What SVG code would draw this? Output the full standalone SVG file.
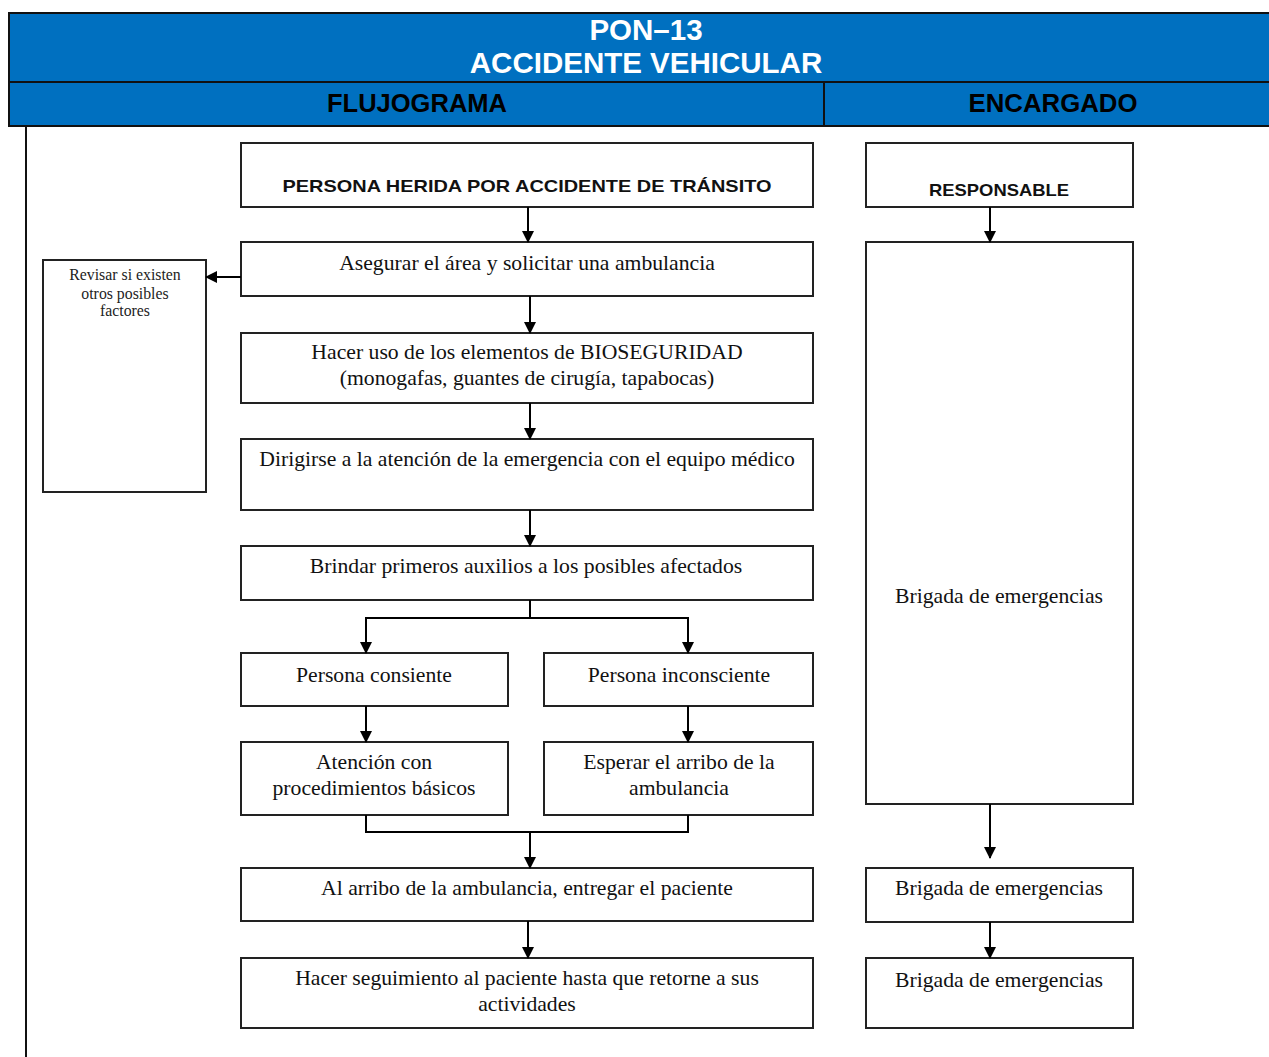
<svg xmlns="http://www.w3.org/2000/svg" width="1269" height="1057" viewBox="0 0 1269 1057">
<defs>
<marker id="ah" markerWidth="12" markerHeight="12" refX="11" refY="6" orient="auto" markerUnits="userSpaceOnUse">
<path d="M0,0 L12,6 L0,12 Z" fill="#000"/>
</marker>
<style>
.box{fill:#fff;stroke:#222;stroke-width:2}
.hd{font-family:"Liberation Sans",Arial,sans-serif;font-weight:bold;text-anchor:middle}
.sr{font-family:"Liberation Serif","Times New Roman",serif;font-size:21.7px;fill:#111;text-anchor:middle}
.sm{font-family:"Liberation Serif","Times New Roman",serif;font-size:15.8px;fill:#222;text-anchor:middle}
.cn{fill:none;stroke:#000;stroke-width:2;marker-end:url(#ah)}
.ln{fill:none;stroke:#000;stroke-width:2}
</style>
</defs>
<rect width="1269" height="1057" fill="#fff"/>
<g id="header">
<rect x="9" y="13" width="1270" height="113" fill="#0070C0" stroke="#111" stroke-width="2"/>
<line x1="9" y1="82" x2="1269" y2="82" stroke="#111" stroke-width="2"/>
<line x1="824" y1="82" x2="824" y2="126" stroke="#111" stroke-width="2"/>
<text class="hd" x="646" y="40" font-size="29.5" fill="#fff">PON–13</text>
<text class="hd" x="646" y="73" font-size="29.5" fill="#fff">ACCIDENTE VEHICULAR</text>
<text class="hd" x="417" y="112" font-size="25" fill="#000" textLength="180" lengthAdjust="spacingAndGlyphs">FLUJOGRAMA</text>
<text class="hd" x="1053" y="112" font-size="25" fill="#000" textLength="169" lengthAdjust="spacingAndGlyphs">ENCARGADO</text>
</g>
<line x1="26" y1="126" x2="26" y2="1057" stroke="#111" stroke-width="2"/>
<g id="n1"><rect class="box" x="241" y="143" width="572" height="64"/>
<text class="hd" x="527" y="192" font-size="17" fill="#111" textLength="489" lengthAdjust="spacingAndGlyphs">PERSONA HERIDA POR ACCIDENTE DE TRÁNSITO</text></g>
<g id="r1"><rect class="box" x="866" y="143" width="267" height="64"/>
<text class="hd" x="999" y="196" font-size="17" fill="#111" textLength="140" lengthAdjust="spacingAndGlyphs">RESPONSABLE</text></g>
<g id="n2"><rect class="box" x="241" y="242" width="572" height="54"/>
<text class="sr" x="527" y="270">Asegurar el área y solicitar una ambulancia</text></g>
<g id="side"><rect class="box" x="43" y="260" width="163" height="232"/>
<text class="sm" x="125" y="280">Revisar si existen</text>
<text class="sm" x="125" y="299">otros posibles</text>
<text class="sm" x="125" y="316">factores</text></g>
<g id="n3"><rect class="box" x="241" y="333" width="572" height="70"/>
<text class="sr" x="527" y="359">Hacer uso de los elementos de BIOSEGURIDAD</text>
<text class="sr" x="527" y="385">(monogafas, guantes de cirugía, tapabocas)</text></g>
<g id="n4"><rect class="box" x="241" y="439" width="572" height="71"/>
<text class="sr" x="527" y="466">Dirigirse a la atención de la emergencia con el equipo médico</text></g>
<g id="n5"><rect class="box" x="241" y="546" width="572" height="54"/>
<text class="sr" x="526" y="573">Brindar primeros auxilios a los posibles afectados</text></g>
<g id="n6"><rect class="box" x="241" y="653" width="267" height="53"/>
<text class="sr" x="374" y="682">Persona consiente</text></g>
<g id="n7"><rect class="box" x="544" y="653" width="269" height="53"/>
<text class="sr" x="679" y="682">Persona inconsciente</text></g>
<g id="n8"><rect class="box" x="241" y="742" width="267" height="73"/>
<text class="sr" x="374" y="769">Atención con</text>
<text class="sr" x="374" y="795">procedimientos básicos</text></g>
<g id="n9"><rect class="box" x="544" y="742" width="269" height="73"/>
<text class="sr" x="679" y="769">Esperar el arribo de la</text>
<text class="sr" x="679" y="795">ambulancia</text></g>
<g id="n10"><rect class="box" x="241" y="868" width="572" height="53"/>
<text class="sr" x="527" y="895">Al arribo de la ambulancia, entregar el paciente</text></g>
<g id="n11"><rect class="box" x="241" y="958" width="572" height="70"/>
<text class="sr" x="527" y="985">Hacer seguimiento al paciente hasta que retorne a sus</text>
<text class="sr" x="527" y="1011">actividades</text></g>
<g id="r2"><rect class="box" x="866" y="242" width="267" height="562"/>
<text class="sr" x="999" y="603">Brigada de emergencias</text></g>
<g id="r3"><rect class="box" x="866" y="868" width="267" height="54"/>
<text class="sr" x="999" y="895">Brigada de emergencias</text></g>
<g id="r4"><rect class="box" x="866" y="958" width="267" height="70"/>
<text class="sr" x="999" y="987">Brigada de emergencias</text></g>
<g id="connectors">
<path class="cn" d="M528,207 V242"/>
<path class="cn" d="M241,277 H206"/>
<path class="cn" d="M530,296 V333"/>
<path class="cn" d="M530,403 V439"/>
<path class="cn" d="M530,510 V546"/>
<path class="cn" d="M530,600 V618 H366 V653"/>
<path class="cn" d="M530,618 H688 V653"/>
<path class="cn" d="M366,706 V742"/>
<path class="cn" d="M688,706 V742"/>
<path class="ln" d="M366,815 V832 H688 V815"/>
<path class="cn" d="M530,832 V868"/>
<path class="cn" d="M528,921 V958"/>
<path class="cn" d="M990,207 V242"/>
<path class="cn" d="M990,804 V858"/>
<path class="cn" d="M990,922 V958"/>
</g>
</svg>
